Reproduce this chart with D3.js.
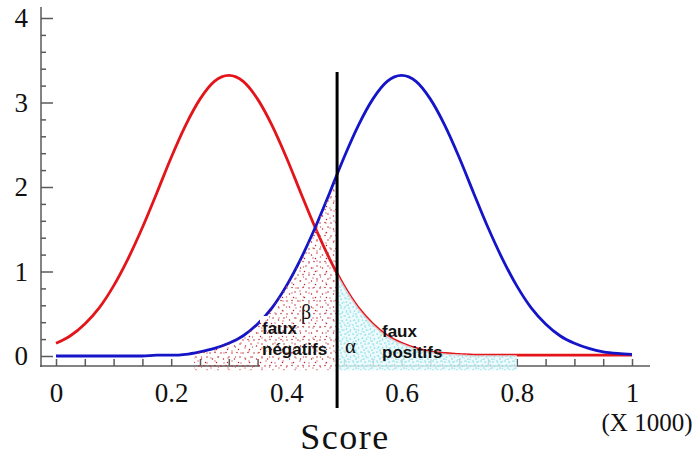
<!DOCTYPE html>
<html>
<head>
<meta charset="utf-8">
<script src="https://cdn.jsdelivr.net/npm/d3@7"></script>
<style>
body { margin: 0; background: white; }
</style>
</head>
<body>
<div class="chart"></div>
<script>
/*** Data ***/

// score (x 1000), every 0.025
const scores = [0, 0.025, 0.05, 0.075, 0.1, 0.125, 0.15, 0.175, 0.2, 0.225,
    0.25, 0.275, 0.3, 0.325, 0.35, 0.375, 0.4, 0.425, 0.45, 0.475,
    0.5, 0.525, 0.55, 0.575, 0.6, 0.625, 0.65, 0.675, 0.7, 0.725,
    0.75, 0.775, 0.8, 0.825, 0.85, 0.875, 0.9, 0.925, 0.95, 0.975, 1]

// red curve (negatives)
const redValues = [0.15, 0.24, 0.38, 0.57, 0.83, 1.15, 1.52, 1.93, 2.35, 2.73,
    3.04, 3.25, 3.32, 3.25, 3.04, 2.73, 2.35, 1.93, 1.52, 1.15,
    0.83, 0.57, 0.38, 0.24, 0.15, 0.09, 0.05, 0.03, 0.02, 0.01,
    0.01, 0.01, 0.01, 0.01, 0.01, 0.01, 0.01, 0.01, 0.01, 0.01, 0.01]

// blue curve (positives)
const blueValues = [0, 0, 0, 0, 0, 0, 0, 0.01, 0.01, 0.02,
    0.05, 0.09, 0.15, 0.24, 0.38, 0.57, 0.83, 1.15, 1.52, 1.93,
    2.35, 2.73, 3.04, 3.25, 3.32, 3.25, 3.04, 2.73, 2.35, 1.93,
    1.52, 1.15, 0.83, 0.57, 0.38, 0.24, 0.15, 0.09, 0.05, 0.03, 0.02]

const threshold = 0.488
const betaRange = [0.24, threshold]   // faux negatifs
const alphaRange = [threshold, 0.8]   // faux positifs

const xTickLabels = [0, 0.2, 0.4, 0.6, 0.8, 1]
const xMinorTicks = [0, 0.05, 0.1, 0.15, 0.2, 0.25, 0.3, 0.35, 0.4, 0.45, 0.5,
    0.55, 0.6, 0.65, 0.7, 0.75, 0.8, 0.85, 0.9, 0.95, 1]
const yTickLabels = [0, 1, 2, 3, 4]
const yMinorTicks = [0.2, 0.4, 0.6, 0.8, 1.2, 1.4, 1.6, 1.8, 2.2, 2.4, 2.6, 2.8,
    3.2, 3.4, 3.6, 3.8]

/*** Setup ***/

const svgWidth = 700
const svgHeight = 458
const axisColor = "#5a5a5a"
const serif = "'Liberation Serif', 'Times New Roman', serif"
const sans = "'Liberation Sans', Arial, sans-serif"

let svg = d3.select(".chart")
    .append("svg")
    .attr("width", svgWidth)
    .attr("height", svgHeight)
    .style("background-color", "white")

let xScale = d3.scaleLinear().domain([0, 1]).range([56, 632])
let yScale = d3.scaleLinear().domain([0, 4]).range([356, 18])

let red = scores.map((s, i) => ({ s: s, v: redValues[i] }))
let blue = scores.map((s, i) => ({ s: s, v: blueValues[i] }))

/* dot textures */

let defs = svg.append("defs")

function addPattern(id, w, h, pts, color, r) {
    let p = defs.append("pattern")
        .attr("id", id)
        .attr("patternUnits", "userSpaceOnUse")
        .attr("width", w)
        .attr("height", h)
    p.selectAll("circle")
        .data(pts)
        .join("circle")
        .attr("cx", d => d[0])
        .attr("cy", d => d[1])
        .attr("r", r)
        .attr("fill", color)
}

addPattern("redA", 11, 13, [[1, 2], [6, 1.5], [9, 6], [3.5, 8], [7.5, 11.5]], "#b8202a", 0.75)
addPattern("redB", 17, 10, [[3, 3], [11, 1], [14.5, 7], [7, 8]], "#d55a5e", 0.7)
addPattern("cyanA", 8, 9, [[1, 1], [5, 2], [2.5, 5], [6.5, 6], [4, 8]], "#86dde6", 0.85)
addPattern("cyanB", 12, 7, [[2, 2.5], [8, 1], [10.5, 4.5], [5.5, 5.5]], "#a6e8ee", 0.8)

function addClip(id, range) {
    defs.append("clipPath")
        .attr("id", id)
        .append("rect")
        .attr("x", xScale(range[0]))
        .attr("y", 0)
        .attr("width", xScale(range[1]) - xScale(range[0]))
        .attr("height", svgHeight)
}
addClip("clipBeta", betaRange)
addClip("clipAlpha", alphaRange)

/*** Axes ***/

// y axis
let yAxis = svg.append("g")
    .attr("transform", "translate(41, 0)")
    .call(d3.axisLeft(yScale).tickValues(yTickLabels).tickSize(-12).tickPadding(13).tickFormat(d3.format("d")))
let yMinor = svg.append("g")
    .attr("transform", "translate(41, 0)")
    .call(d3.axisLeft(yScale).tickValues(yMinorTicks).tickSize(-5).tickFormat(""))

// x axis
let xMinor = svg.append("g")
    .attr("transform", "translate(0, 366)")
    .call(d3.axisBottom(xScale).tickValues(xMinorTicks).tickSize(-7).tickFormat(""))
let xAxis = svg.append("g")
    .attr("transform", "translate(0, 366)")
    .call(d3.axisBottom(xScale).tickValues(xTickLabels).tickSize(0).tickFormat(d => d))

for (let g of [yAxis, yMinor, xMinor, xAxis]) {
    g.select(".domain").remove()
    g.selectAll("line").attr("stroke", axisColor).attr("stroke-width", 1.5)
    g.selectAll("text")
        .attr("fill", "#111")
        .style("font-family", serif)
        .style("font-size", "27px")
}
xAxis.selectAll("text").attr("y", 17)

svg.append("line")
    .attr("x1", 41).attr("x2", 41).attr("y1", 7).attr("y2", 367)
    .attr("stroke", axisColor).attr("stroke-width", 1.5)
svg.append("line")
    .attr("x1", 40).attr("x2", 650).attr("y1", 366).attr("y2", 366)
    .attr("stroke", axisColor).attr("stroke-width", 1.5)

/*** Curves ***/

let line = d3.line()
    .x(d => xScale(d.s))
    .y(d => yScale(d.v))
    .curve(d3.curveMonotoneX)

svg.append("path").datum(red)
    .attr("d", line).attr("fill", "none")
    .attr("stroke", "#e3141a").attr("stroke-width", 2.8)
svg.append("path").datum(blue)
    .attr("d", line).attr("fill", "none")
    .attr("stroke", "#1414c8").attr("stroke-width", 2.8)

// white box behind the "faux négatifs" label
svg.append("rect")
    .attr("x", 260).attr("y", 316)
    .attr("width", 76).attr("height", 56)
    .attr("fill", "white")

/*** Dotted error areas ***/

let area = d3.area()
    .x(d => xScale(d.s))
    .y0(yScale(-0.17))
    .y1(d => yScale(d.v))
    .curve(d3.curveMonotoneX)

let beta = svg.append("g").attr("clip-path", "url(#clipBeta)")
let betaData = blue.filter(d => d.s >= 0.2 && d.s <= 0.525)
beta.append("path").datum(betaData).attr("d", area).attr("fill", "url(#redA)")
beta.append("path").datum(betaData).attr("d", area).attr("fill", "url(#redB)")

let alpha = svg.append("g").attr("clip-path", "url(#clipAlpha)")
let alphaData = red.filter(d => d.s >= 0.45 && d.s <= 0.85)
alpha.append("path").datum(alphaData).attr("d", area).attr("fill", "#eaf9fb").attr("opacity", 0.8)
alpha.append("path").datum(alphaData).attr("d", area).attr("fill", "url(#cyanA)")
alpha.append("path").datum(alphaData).attr("d", area).attr("fill", "url(#cyanB)")

/*** Threshold ***/

svg.append("line")
    .attr("x1", xScale(threshold)).attr("x2", xScale(threshold))
    .attr("y1", 72).attr("y2", 408)
    .attr("stroke", "black").attr("stroke-width", 3)

/*** Labels ***/

function label(txt, x, y, size, font, anchor, weight) {
    return svg.append("text")
        .attr("x", x).attr("y", y)
        .attr("text-anchor", anchor || "start")
        .style("font-family", font)
        .style("font-size", size + "px")
        .style("font-weight", weight || "normal")
        .attr("fill", "#111")
        .text(txt)
}

label("faux", 262, 334, 17, sans, "start", "bold")
label("négatifs", 262, 355, 17, sans, "start", "bold")
label("faux", 382, 337, 17, sans, "start", "bold")
label("positifs", 382, 358, 17, sans, "start", "bold")
label("β", 301, 319, 20, serif)
label("α", 345, 353, 21, serif)

label("(X 1000)", 647, 431, 25, serif, "middle")
label("Score", 345, 449, 36, serif, "middle").style("letter-spacing", "1.5px")
</script>
</body>
</html>
